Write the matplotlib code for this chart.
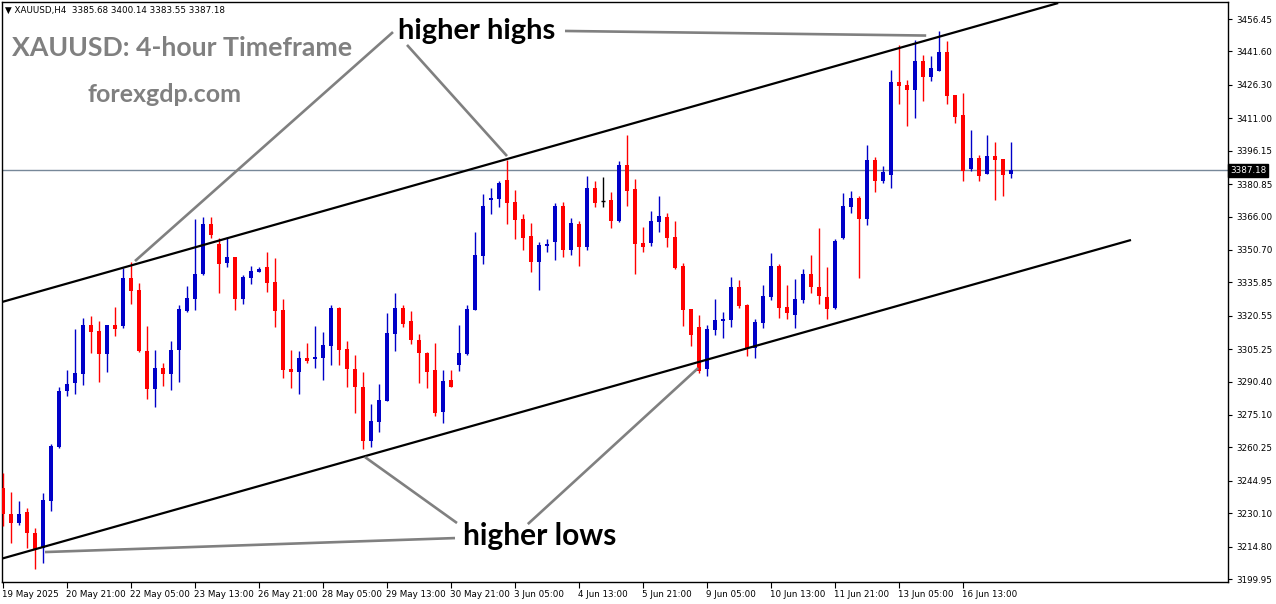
import matplotlib
matplotlib.use("Agg")
import matplotlib.pyplot as plt
import matplotlib.transforms as mtransforms
import numpy as np

# XAUUSD H4 candles (open, high, low, close)
opens = [3241.8, 3229.7, 3225.7, 3230.8, 3221.2, 3214.0, 3235.7, 3260.6, 3286.2, 3289.9,
         3293.9, 3316.4, 3313.6, 3303.0, 3316.4, 3315.9, 3338.0, 3332.3, 3304.4, 3287.0,
         3296.5, 3293.9, 3304.9, 3322.9, 3328.2, 3339.5, 3362.6, 3353.4, 3344.8, 3347.6,
         3328.2, 3338.0, 3340.7, 3343.0, 3336.0, 3323.2, 3296.2, 3294.9, 3301.2, 3300.9,
         3301.3, 3306.8, 3324.2, 3305.5, 3296.3, 3288.0, 3263.3, 3272.0, 3281.6, 3312.2,
         3324.2, 3318.1, 3309.4, 3303.6, 3295.7, 3276.6, 3291.1, 3298.0, 3302.9, 3323.2,
         3347.9, 3373.6, 3374.0, 3382.7, 3372.8, 3365.0, 3357.1, 3345.3, 3352.6, 3354.5,
         3370.8, 3350.7, 3362.6, 3351.9, 3378.9, 3373.2, 3373.6, 3364.1, 3389.6, 3378.5,
         3353.7, 3354.0, 3363.6, 3365.9, 3356.8, 3343.5, 3323.6, 3315.3, 3296.0, 3314.0,
         3318.3, 3318.6, 3333.9, 3325.5, 3305.6, 3317.4, 3329.3, 3343.5, 3324.4, 3320.9,
         3327.8, 3339.7, 3333.9, 3329.3, 3324.2, 3356.0, 3370.5, 3374.5, 3364.9, 3391.9,
         3382.4, 3385.0, 3427.8, 3426.3, 3424.0, 3437.3, 3430.1, 3432.8, 3441.5, 3421.7,
         3412.5, 3387.8, 3392.9, 3385.5, 3393.9, 3392.4, 3385.68]
highs = [3248.6, 3239.9, 3235.7, 3232.6, 3223.2, 3239.5, 3261.8, 3287.8, 3295.7, 3314.5,
         3319.7, 3320.6, 3318.1, 3316.4, 3324.7, 3342.3, 3345.0, 3335.4, 3315.9, 3304.9,
         3299.0, 3309.1, 3325.5, 3334.3, 3364.9, 3365.9, 3365.8, 3356.0, 3356.5, 3347.6,
         3339.1, 3343.5, 3343.0, 3349.9, 3347.1, 3328.2, 3305.0, 3304.5, 3308.1, 3316.0,
         3313.1, 3325.5, 3324.7, 3309.0, 3302.6, 3294.8, 3280.1, 3289.4, 3321.9, 3331.1,
         3325.5, 3322.7, 3312.2, 3304.1, 3308.2, 3295.7, 3295.7, 3316.3, 3325.5, 3359.0,
         3376.3, 3379.2, 3382.4, 3391.9, 3378.2, 3367.2, 3363.2, 3354.5, 3355.6, 3372.3,
         3372.8, 3365.2, 3364.1, 3384.6, 3382.3, 3384.0, 3377.1, 3391.4, 3403.3, 3383.2,
         3361.3, 3368.5, 3375.4, 3367.8, 3364.1, 3344.6, 3323.6, 3320.9, 3316.3, 3328.2,
         3322.4, 3338.4, 3336.9, 3325.9, 3318.9, 3334.6, 3349.4, 3344.1, 3334.6, 3337.4,
         3342.0, 3348.4, 3360.9, 3343.0, 3355.6, 3376.9, 3377.7, 3375.4, 3398.8, 3393.4,
         3389.3, 3433.1, 3444.6, 3428.5, 3446.9, 3440.0, 3439.5, 3451.0, 3446.5, 3421.7,
         3422.7, 3405.6, 3394.2, 3403.3, 3400.3, 3392.4, 3400.14]
lows = [3224.4, 3216.6, 3224.8, 3214.0, 3204.4, 3207.4, 3231.2, 3260.1, 3283.9, 3284.8,
        3288.8, 3303.6, 3290.3, 3294.9, 3311.4, 3315.1, 3325.9, 3303.8, 3282.4, 3278.9,
        3288.5, 3286.5, 3290.3, 3322.4, 3323.2, 3339.2, 3356.3, 3331.1, 3343.0, 3323.2,
        3326.1, 3335.2, 3340.4, 3331.4, 3315.5, 3292.2, 3287.6, 3284.8, 3298.8, 3296.7,
        3291.2, 3298.0, 3298.0, 3288.0, 3276.1, 3259.4, 3260.6, 3267.4, 3281.6, 3304.5,
        3315.3, 3307.6, 3289.9, 3287.3, 3274.6, 3271.3, 3288.0, 3295.4, 3302.6, 3323.2,
        3344.3, 3367.2, 3370.2, 3362.6, 3355.7, 3350.7, 3340.7, 3332.3, 3349.9, 3346.1,
        3347.6, 3348.4, 3343.3, 3350.7, 3370.2, 3370.2, 3360.9, 3363.6, 3370.8, 3339.5,
        3349.9, 3352.6, 3359.0, 3352.2, 3342.0, 3316.0, 3306.8, 3294.5, 3292.9, 3311.7,
        3310.5, 3315.5, 3324.0, 3302.1, 3301.3, 3314.8, 3327.8, 3319.7, 3319.1, 3315.1,
        3326.5, 3331.1, 3325.8, 3318.9, 3323.5, 3355.6, 3367.5, 3338.0, 3362.1, 3377.4,
        3381.2, 3379.2, 3417.5, 3407.5, 3411.3, 3419.1, 3428.2, 3432.8, 3417.5, 3409.0,
        3382.3, 3387.0, 3382.3, 3385.5, 3373.6, 3375.4, 3383.55]
closes = [3229.6, 3225.7, 3229.7, 3220.9, 3213.2, 3236.1, 3261.0, 3286.2, 3289.3, 3294.5,
          3316.4, 3313.2, 3303.0, 3316.4, 3314.6, 3338.0, 3331.9, 3304.4, 3287.0, 3296.5,
          3293.9, 3304.9, 3323.6, 3328.8, 3339.7, 3362.6, 3357.5, 3344.3, 3347.6, 3328.2,
          3338.4, 3341.2, 3342.0, 3335.7, 3322.9, 3295.8, 3294.9, 3301.2, 3300.0, 3301.6,
          3307.1, 3324.2, 3305.0, 3296.3, 3288.0, 3263.3, 3272.3, 3282.0, 3312.8, 3324.2,
          3316.8, 3309.4, 3303.6, 3294.9, 3276.1, 3290.7, 3288.0, 3303.3, 3323.6, 3348.4,
          3370.8, 3374.6, 3381.5, 3372.3, 3364.4, 3356.3, 3345.3, 3353.0, 3353.4, 3370.8,
          3350.7, 3362.9, 3352.2, 3378.9, 3372.3, 3373.2, 3364.1, 3389.6, 3377.8, 3353.4,
          3352.2, 3363.9, 3366.2, 3356.3, 3342.6, 3323.2, 3311.7, 3295.4, 3314.5, 3318.6,
          3319.1, 3333.9, 3325.0, 3305.6, 3317.8, 3329.6, 3343.5, 3324.2, 3321.9, 3328.2,
          3339.7, 3333.6, 3329.7, 3323.6, 3354.9, 3370.8, 3374.5, 3364.9, 3391.9, 3382.3,
          3386.5, 3427.8, 3425.8, 3424.0, 3437.3, 3430.1, 3433.9, 3441.5, 3421.3, 3411.7,
          3387.0, 3392.9, 3384.6, 3393.9, 3391.9, 3385.0, 3387.18]

price_ticks = [3456.45, 3441.60, 3426.30, 3411.00, 3396.15, 3380.85, 3366.00, 3350.70, 3335.85,
               3320.55, 3305.25, 3290.40, 3275.10, 3260.25, 3244.95, 3230.10, 3214.80, 3199.95]
time_tick_bars = [0, 8, 16, 24, 32, 40, 48, 56, 64, 72, 80, 88, 96, 104, 112, 120]
time_labels = ["19 May 2025", "20 May 21:00", "22 May 05:00", "23 May 13:00", "26 May 21:00",
               "28 May 05:00", "29 May 13:00", "30 May 21:00", "3 Jun 05:00", "4 Jun 13:00",
               "5 Jun 21:00", "9 Jun 05:00", "10 Jun 13:00", "11 Jun 21:00", "13 Jun 05:00",
               "16 Jun 13:00"]
last_price = 3387.18

# channel lines and annotation pointers as (bar index, price) pairs
upper_channel = [(-0.125, 3326.85), (131.9, 3463.8)]
lower_channel = [(-0.125, 3209.3), (141.0, 3355.25)]
high_pointers = [[(16.5, 3345.6), (48.75, 3450.5)],
                 [(50.5, 3444.6), (63.0, 3393.7)],
                 [(70.25, 3451.0), (115.4, 3448.9)]]
low_pointers = [[(5.25, 3212.3), (56.5, 3218.7)],
                [(45.25, 3255.8), (56.75, 3225.6)],
                [(65.6, 3225.1), (86.9, 3296.6)]]

BLUE = "#0000c8"
RED = "#ff0000"
W, H = 1276, 604
SMALL = 6.3

fig = plt.figure(figsize=(W / 100, H / 100), dpi=100)
fig.patch.set_facecolor("white")
ax = fig.add_axes([2 / W, 22 / H, 1226 / W, 580 / H])
ax.set_xlim(-0.125, 153.125)
ax.set_ylim(3198.58, 3464.27)

o = np.array(opens)
h = np.array(highs)
l = np.array(lows)
c = np.array(closes)
idx = np.arange(len(o))
up = c > o
down = c < o
flat = c == o
cols = np.where(up, BLUE, np.where(down, RED, "black"))

ax.vlines(idx, l, h, colors=cols, lw=1.0, zorder=3)
ax.bar(idx[up], (c - o)[up], bottom=o[up], width=0.62, color=BLUE, lw=0, zorder=4)
ax.bar(idx[down], (o - c)[down], bottom=c[down], width=0.62, color=RED, lw=0, zorder=4)
ax.hlines(o[flat], idx[flat] - 0.3, idx[flat] + 0.3, colors="black", lw=1.0, zorder=4)

# last price line
ax.axhline(last_price, color="#778899", lw=1.0, zorder=2)

for (x0, y0), (x1, y1) in [upper_channel, lower_channel]:
    ax.plot([x0, x1], [y0, y1], color="black", lw=1.6, zorder=5, solid_capstyle="butt")

for seg in high_pointers + low_pointers:
    (x0, y0), (x1, y1) = seg
    ax.plot([x0, x1], [y0, y1], color="#808080", lw=1.9, zorder=5, solid_capstyle="butt")

ax.text(49.4, 3451.0, "higher highs", fontsize=21, fontweight="bold", family="Lato",
        color="black", va="center", ha="left", zorder=6)
ax.text(57.5, 3219.5, "higher lows", fontsize=21.5, fontweight="bold", family="Lato",
        color="black", va="center", ha="left", zorder=6)

ax.text(10 / 1226, 1 - 46 / 580, "XAUUSD: 4-hour Timeframe", transform=ax.transAxes,
        fontsize=19.2, fontweight="bold", family="Lato", color="#808080", va="center", ha="left")
ax.text(86 / 1226, 1 - 93 / 580, "forexgdp.com", transform=ax.transAxes,
        fontsize=18, fontweight="bold", family="Lato", color="#808080", va="center", ha="left")
ax.text(3 / 1226, 1 - 8 / 580, "\u25bc XAUUSD,H4  3385.68 3400.14 3383.55 3387.18",
        transform=ax.transAxes, fontsize=SMALL, color="black", va="center", ha="left")

# axes styling like the terminal window
for side in ["left", "right", "top", "bottom"]:
    ax.spines[side].set_color("black")
    ax.spines[side].set_linewidth(1.0)
ax.yaxis.tick_right()
ax.set_yticks(price_ticks)
ax.set_yticklabels([f"{p:.2f}" for p in price_ticks])
ax.set_xticks(time_tick_bars)
ax.set_xticklabels(time_labels, ha="left")
ax.tick_params(axis="y", direction="out", length=3, width=0.8, pad=3, labelsize=SMALL,
               colors="black")
ax.tick_params(axis="x", direction="out", length=4, width=0.8, pad=2, labelsize=SMALL,
               colors="black")
for lab in ax.get_xticklabels():
    lab.set_transform(lab.get_transform() + mtransforms.ScaledTranslation(-1 / 100, 0, fig.dpi_scale_trans))

# last price tag on the scale
trans = mtransforms.blended_transform_factory(ax.transAxes, ax.transData)
ax.text(1.0015, last_price, "3387.18", transform=trans, fontsize=SMALL, color="white",
        va="center", ha="left", zorder=10, clip_on=False,
        bbox=dict(boxstyle="square,pad=0.25", fc="black", ec="black"))

fig.savefig("out.png", dpi=100, facecolor="white")
